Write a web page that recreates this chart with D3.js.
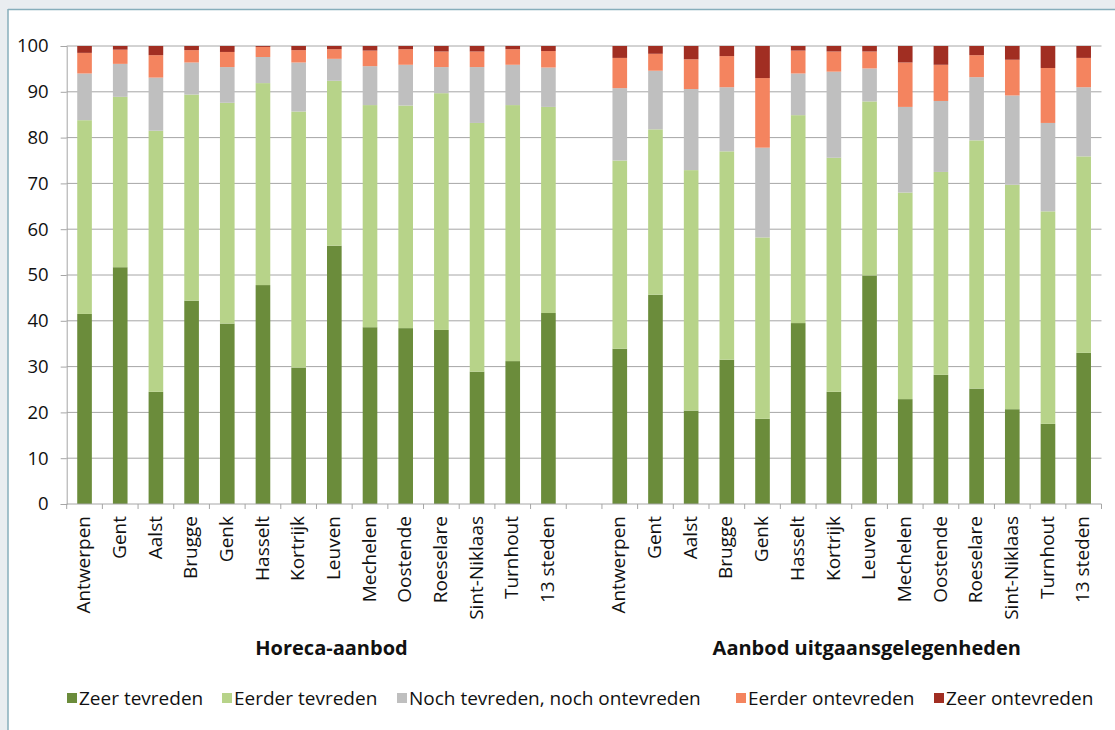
<!DOCTYPE html>
<html>
<head>
<meta charset="utf-8">
<script src="https://cdn.jsdelivr.net/npm/d3@7"></script>
<style>
  html, body { margin: 0; padding: 0; background: #E9EDF0; }
  svg { display: block; }
  text { font-family: "Open Sans", "Noto Sans", sans-serif; fill: #111; }
</style>
</head>
<body>
<svg id="chart" width="1115" height="730"></svg>
<script>
// ---- Data ----
const groupTitles = ["Horeca-aanbod", "Aanbod uitgaansgelegenheden"];
const cities = ["Antwerpen","Gent","Aalst","Brugge","Genk","Hasselt","Kortrijk","Leuven","Mechelen","Oostende","Roeselare","Sint-Niklaas","Turnhout","13 steden"];
const seriesNames = ["Zeer tevreden","Eerder tevreden","Noch tevreden, noch ontevreden","Eerder ontevreden","Zeer ontevreden"];
const yTicks = [0,10,20,30,40,50,60,70,80,90,100];

const horecaZeerTevreden      = [41.5,51.7,24.5,44.4,39.4,47.8,29.8,56.4,38.6,38.4,38.0,28.9,31.2,41.7];
const horecaEerderTevreden    = [42.3,37.2,57.0,45.0,48.2,44.1,55.9,36.0,48.5,48.6,51.7,54.3,55.9,45.0];
const horecaNoch              = [10.2, 7.2,11.6, 7.0, 7.8, 5.7,10.7, 4.8, 8.5, 8.9, 5.7,12.2, 8.8, 8.6];
const horecaEerderOntevreden  = [ 4.5, 3.1, 4.9, 2.7, 3.3, 2.2, 2.7, 2.1, 3.4, 3.4, 3.4, 3.4, 3.4, 3.6];
const horecaZeerOntevreden    = [ 1.5, 0.8, 2.0, 0.9, 1.3, 0.2, 0.9, 0.7, 1.0, 0.7, 1.2, 1.2, 0.7, 1.1];

const uitgaanZeerTevreden     = [33.9,45.7,20.4,31.5,18.6,39.5,24.5,49.9,22.9,28.2,25.2,20.7,17.5,33.0];
const uitgaanEerderTevreden   = [41.1,36.1,52.5,45.5,39.6,45.4,51.1,38.0,45.1,44.3,54.2,49.0,46.4,42.9];
const uitgaanNoch             = [15.8,12.8,17.7,14.0,19.6, 9.1,18.8, 7.2,18.7,15.5,13.8,19.5,19.3,15.1];
const uitgaanEerderOntevreden = [ 6.6, 3.7, 6.5, 6.8,15.2, 5.0, 4.4, 3.7, 9.7, 7.9, 4.8, 7.8,12.0, 6.4];
const uitgaanZeerOntevreden   = [ 2.6, 1.7, 2.9, 2.2, 7.0, 1.0, 1.2, 1.2, 3.6, 4.1, 2.0, 3.0, 4.8, 2.6];

const colors = ["#6B8C3B","#B7D389","#BFBFBF","#F4845F","#A12E22"];

// ---- Build rows ----
const horecaSeries = [horecaZeerTevreden, horecaEerderTevreden, horecaNoch, horecaEerderOntevreden, horecaZeerOntevreden];
const uitgaanSeries = [uitgaanZeerTevreden, uitgaanEerderTevreden, uitgaanNoch, uitgaanEerderOntevreden, uitgaanZeerOntevreden];
const rows = [];
cities.forEach((c, i) => {
  const r = { key: "h" + i, city: c, group: 0 };
  seriesNames.forEach((s, k) => r[s] = horecaSeries[k][i]);
  rows.push(r);
});
const gapRow = { key: "gap", city: "", group: -1 };
seriesNames.forEach(s => gapRow[s] = 0);
rows.push(gapRow);
cities.forEach((c, i) => {
  const r = { key: "u" + i, city: c, group: 1 };
  seriesNames.forEach((s, k) => r[s] = uitgaanSeries[k][i]);
  rows.push(r);
});

// ---- Layout ----
const svg = d3.select("#chart");
svg.append("rect").attr("x", 8).attr("y", 9).attr("width", 1115).attr("height", 730).attr("fill", "#fff");
svg.append("line").attr("x1", 8).attr("x2", 1115).attr("y1", 9.5).attr("y2", 9.5).attr("stroke", "#87AEBB").attr("stroke-width", 1.5);
svg.append("line").attr("x1", 8).attr("x2", 8).attr("y1", 9).attr("y2", 730).attr("stroke", "#87AEBB").attr("stroke-width", 1.5);

const plotLeft = 66.7, plotRight = 1101.5, plotTop = 46, plotBottom = 504;
const x = d3.scaleBand().domain(rows.map(d => d.key)).range([plotLeft, plotRight]).paddingInner(0).paddingOuter(0);
const y = d3.scaleLinear().domain([0, 100]).range([plotBottom, plotTop]);
const barW = x.bandwidth() * 0.41;

// gridlines + y axis
const yAxis = d3.axisLeft(y).tickValues(yTicks).tickSize(6).tickPadding(12).tickFormat(d3.format("d"));
const gy = svg.append("g").attr("transform", `translate(${plotLeft},0)`).call(yAxis);
gy.select(".domain").attr("stroke", "#A6A6A6");
gy.selectAll(".tick line").attr("stroke", "#A6A6A6");
gy.selectAll(".tick text").style("font-size", "18.5px").attr("fill", "#111");
svg.append("g").selectAll("line").data(yTicks.filter(t => t > 0)).join("line")
  .attr("x1", plotLeft).attr("x2", plotRight).attr("y1", d => y(d)).attr("y2", d => y(d))
  .attr("stroke", "#A6A6A6").attr("stroke-width", 1);

// bars
const stack = d3.stack().keys(seriesNames);
const stacked = stack(rows);
svg.append("g").selectAll("g").data(stacked).join("g")
  .attr("fill", (d, i) => colors[i])
  .selectAll("rect").data(d => d.filter(p => p.data.key !== "gap")).join("rect")
  .attr("x", p => x(p.data.key) + (x.bandwidth() - barW) / 2)
  .attr("width", barW)
  .attr("y", p => y(p[1]))
  .attr("height", p => y(p[0]) - y(p[1]));

// x axis line and boundary ticks
svg.append("line").attr("x1", plotLeft).attr("x2", plotRight).attr("y1", plotBottom).attr("y2", plotBottom).attr("stroke", "#A6A6A6");
const bounds = rows.map(d => x(d.key)).concat([plotRight]);
svg.append("g").selectAll("line").data(bounds).join("line")
  .attr("x1", d => d).attr("x2", d => d).attr("y1", plotBottom).attr("y2", plotBottom + 5)
  .attr("stroke", "#A6A6A6");

// x labels
svg.append("g").selectAll("text").data(rows.filter(d => d.key !== "gap")).join("text")
  .attr("transform", d => `translate(${x(d.key) + x.bandwidth() / 2 - 1},${plotBottom + 12}) rotate(-90)`)
  .attr("text-anchor", "end").attr("dy", "0.35em")
  .style("font-size", "19px")
  .text(d => d.city);

// group titles
groupTitles.forEach((t, g) => {
  const keys = rows.filter(d => d.group === g).map(d => d.key);
  const cx = (x(keys[0]) + x(keys[keys.length - 1]) + x.bandwidth()) / 2 + 15;
  svg.append("text").attr("x", cx).attr("y", 655).attr("text-anchor", "middle")
    .style("font-size", "20px").style("font-weight", "bold").text(t);
});

// legend
const legendX = [67, 222, 397, 736, 934];
const lg = svg.append("g").selectAll("g").data(seriesNames).join("g")
  .attr("transform", (d, i) => `translate(${legendX[i]},698)`);
lg.append("rect").attr("x", 0).attr("y", -5).attr("width", 10).attr("height", 10).attr("fill", (d, i) => colors[i]);
lg.append("text").attr("x", 12).attr("dy", "0.35em").style("font-size", "19px").text(d => d);
</script>
</body>
</html>
